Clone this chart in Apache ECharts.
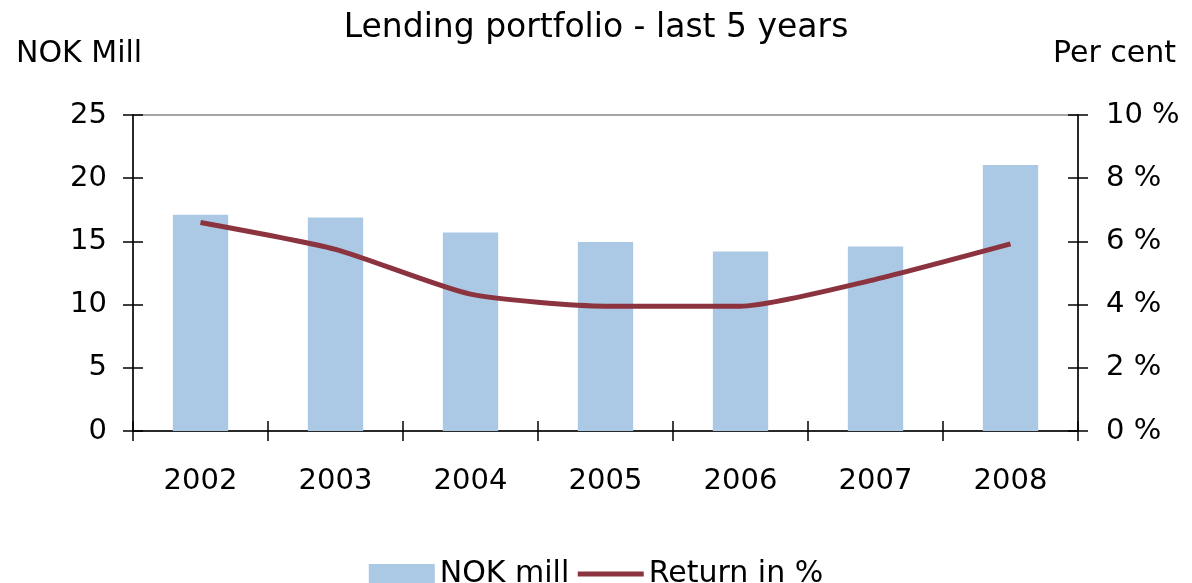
<!DOCTYPE html>
<html>
<head>
<meta charset="utf-8">
<title>Lending portfolio</title>
<script src="https://cdn.jsdelivr.net/npm/echarts@6/dist/echarts.min.js"></script>
<style>
  html, body { margin: 0; padding: 0; background: #fff; }
  #chart { width: 1192px; height: 583px; }
</style>
</head>
<body>
<div id="chart"></div>
<script>
// data
var years = ['2002', '2003', '2004', '2005', '2006', '2007', '2008'];
var nokMill = [17.1, 16.9, 15.7, 14.95, 14.2, 14.6, 21.05];
var returnPct = [6.6, 5.75, 4.33, 3.95, 3.95, 4.8, 5.92];

var font = 'DejaVu Sans';
var fs = 29;
var black = '#000';
var barColor = '#abc9e4';
var lineColor = '#8b333f';
var axisLine = { show: true, lineStyle: { color: black, width: 1.5 } };

// crossing ticks: one axis draws the outside half, a twin draws the inside half
var leftY = { min: 0, max: 25, interval: 5 };
var rightY = { min: 0, max: 10, interval: 2 };

var chart = echarts.init(document.getElementById('chart'));
chart.setOption({
  animation: false,
  backgroundColor: '#fff',
  title: [
    { text: 'Lending portfolio - last 5 years', left: 'center', top: 12, padding: 0,
      textStyle: { fontFamily: font, fontSize: 33, fontWeight: 'normal', color: black } },
    { text: 'NOK Mill', left: 16, top: 39, padding: 0,
      textStyle: { fontFamily: font, fontSize: 30, fontWeight: 'normal', color: black } },
    { text: 'Per cent', right: 16, top: 39, padding: 0,
      textStyle: { fontFamily: font, fontSize: 30, fontWeight: 'normal', color: black } }
  ],
  legend: {
    top: 554, left: 'center',
    itemWidth: 66, itemHeight: 20, itemGap: 6,
    textStyle: { fontFamily: font, fontSize: 30, color: black },
    data: [
      { name: 'NOK mill', icon: 'rect' },
      { name: 'Return in %', itemStyle: { opacity: 0 }, lineStyle: { width: 5, color: lineColor } }
    ]
  },
  grid: { left: 133, right: 114, top: 115, bottom: 152, show: true, borderColor: '#888', borderWidth: 1.5 },
  xAxis: [{
    type: 'category', data: years, position: 'bottom',
    axisLine: axisLine,
    axisTick: { show: true, length: 10, lineStyle: { color: black, width: 1.5 } },
    axisLabel: { fontFamily: font, fontSize: fs, color: black, margin: 36 }
  }, {
    type: 'category', data: years, position: 'bottom',
    axisLine: { show: false },
    axisTick: { show: true, inside: true, length: 10, lineStyle: { color: black, width: 1.5 } },
    axisLabel: { show: false }
  }],
  yAxis: [{
    type: 'value', position: 'left', min: leftY.min, max: leftY.max, interval: leftY.interval,
    axisLine: axisLine,
    axisTick: { show: true, length: 10, lineStyle: { color: black, width: 1.5 } },
    axisLabel: { fontFamily: font, fontSize: fs, color: black, margin: 26 },
    splitLine: { show: false }
  }, {
    type: 'value', position: 'right', min: rightY.min, max: rightY.max, interval: rightY.interval,
    axisLine: axisLine,
    axisTick: { show: true, length: 10, lineStyle: { color: black, width: 1.5 } },
    axisLabel: { fontFamily: font, fontSize: fs, color: black, margin: 28, formatter: '{value} %' },
    splitLine: { show: false }
  }, {
    type: 'value', position: 'left', min: leftY.min, max: leftY.max, interval: leftY.interval,
    axisLine: { show: false },
    axisTick: { show: true, inside: true, length: 10, lineStyle: { color: black, width: 1.5 } },
    axisLabel: { show: false }, splitLine: { show: false }
  }, {
    type: 'value', position: 'right', min: rightY.min, max: rightY.max, interval: rightY.interval,
    axisLine: { show: false },
    axisTick: { show: true, inside: true, length: 10, lineStyle: { color: black, width: 1.5 } },
    axisLabel: { show: false }, splitLine: { show: false }
  }],
  series: [{
    name: 'NOK mill', type: 'bar', yAxisIndex: 0, data: nokMill,
    barWidth: '41%', itemStyle: { color: barColor }
  }, {
    name: 'Return in %', type: 'line', yAxisIndex: 1, data: returnPct,
    symbol: 'none', smooth: 0.2,
    lineStyle: { color: lineColor, width: 5 }, itemStyle: { color: lineColor }
  }]
});
</script>
</body>
</html>
